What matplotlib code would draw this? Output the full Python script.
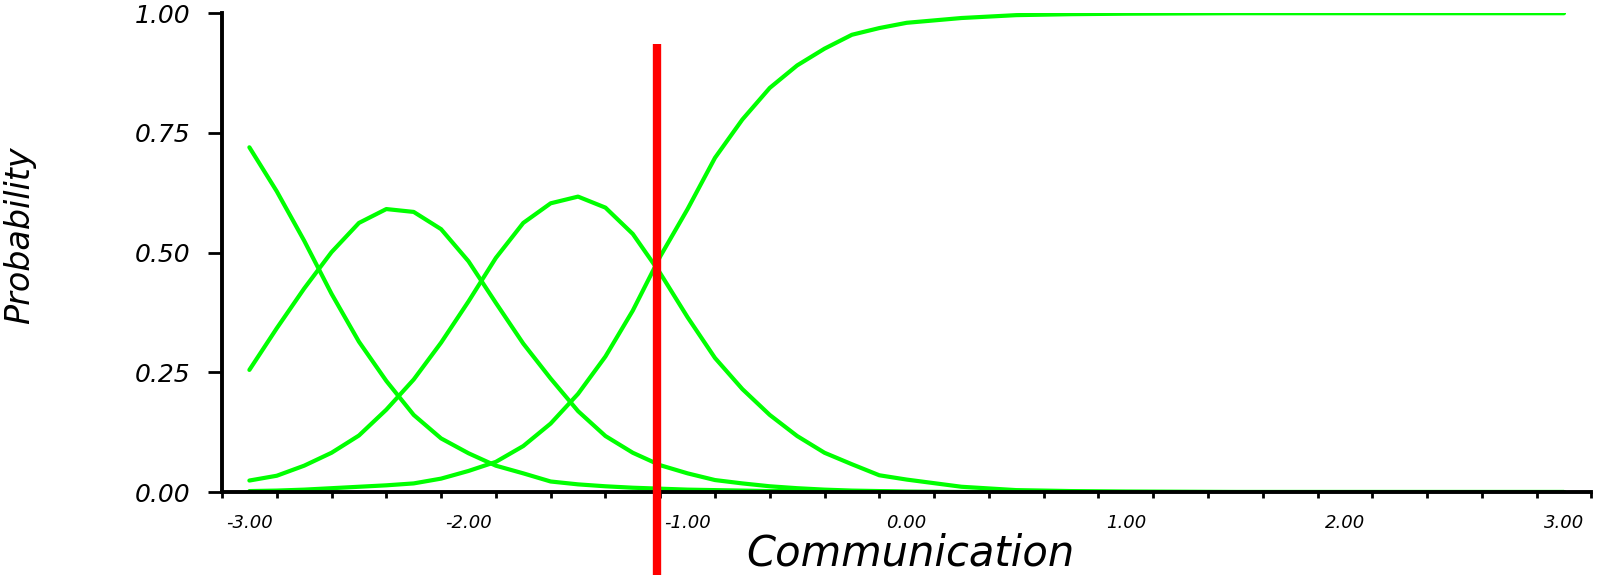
import matplotlib
matplotlib.use("Agg")
import matplotlib.pyplot as plt
import numpy as np

# ability scale (logits) where the curves were read
theta = [-3.0, -2.875, -2.75, -2.625, -2.5, -2.375, -2.25, -2.125, -2.0,
         -1.875, -1.75, -1.625, -1.5, -1.375, -1.25, -1.125, -1.0,
         -0.875, -0.75, -0.625, -0.5, -0.375, -0.25, -0.125, 0.0,
         0.25, 0.5, 0.75, 1.0, 1.5, 2.0, 2.5, 3.0]

# category probability curves
cat0 = [0.720, 0.628, 0.525, 0.414, 0.314, 0.232, 0.161, 0.112, 0.081,
        0.055, 0.039, 0.022, 0.016, 0.012, 0.009, 0.007, 0.005,
        0.004, 0.003, 0.002, 0.002, 0.001, 0.001, 0.001, 0.000,
        0.000, 0.000, 0.000, 0.000, 0.000, 0.000, 0.000, 0.000]
cat1 = [0.255, 0.342, 0.425, 0.501, 0.562, 0.591, 0.585, 0.549, 0.482,
        0.395, 0.310, 0.237, 0.169, 0.117, 0.082, 0.056, 0.039,
        0.025, 0.018, 0.012, 0.008, 0.005, 0.003, 0.002, 0.001,
        0.000, 0.000, 0.000, 0.000, 0.000, 0.000, 0.000, 0.000]
cat2 = [0.024, 0.034, 0.055, 0.082, 0.118, 0.172, 0.235, 0.312, 0.398,
        0.489, 0.562, 0.603, 0.617, 0.594, 0.539, 0.457, 0.365,
        0.280, 0.215, 0.161, 0.117, 0.082, 0.058, 0.035, 0.026,
        0.011, 0.004, 0.002, 0.001, 0.000, 0.000, 0.000, 0.000]
cat3 = [0.002, 0.003, 0.005, 0.008, 0.011, 0.014, 0.018, 0.028, 0.044,
        0.063, 0.096, 0.143, 0.205, 0.283, 0.379, 0.492, 0.591,
        0.698, 0.778, 0.844, 0.891, 0.926, 0.955, 0.969, 0.980,
        0.990, 0.996, 0.998, 0.999, 1.000, 1.000, 1.000, 1.000]

cut_x = -1.14      # red marker position
cut_top = 0.935    # where the red marker stops

x_labels = [-3, -2, -1, 0, 1, 2, 3]
y_ticks = [0.0, 0.25, 0.5, 0.75, 1.0]

fig = plt.figure(figsize=(15.97, 5.75), dpi=100)
ax = fig.add_axes([0.139, 0.1443, 0.8575, 0.8327])

for curve in [cat0, cat1, cat2, cat3]:
    ax.plot(theta, curve, color="#00ff00", lw=3, solid_capstyle="round")

ax.plot([cut_x, cut_x], [-0.2, cut_top], color="#ff0000", lw=6,
        solid_capstyle="butt", clip_on=False, zorder=5)

ax.set_xlim(-3.125, 3.125)
ax.set_ylim(0, 1)

for s in ["top", "right"]:
    ax.spines[s].set_visible(False)
for s in ["left", "bottom"]:
    ax.spines[s].set_linewidth(2.8)

ax.set_yticks(y_ticks)
ax.set_yticklabels(["%.2f" % v for v in y_ticks], fontsize=18, style="italic")
ax.tick_params(axis="y", length=10, width=2, pad=13)

ax.set_xticks(x_labels)
ax.set_xticklabels(["%.2f" % v for v in x_labels], fontsize=13, style="italic")
ax.set_xticks(np.arange(-3.125, 3.13, 0.25), minor=True)
ax.tick_params(axis="x", which="major", length=0, pad=16)
ax.tick_params(axis="x", which="minor", length=4, width=2)

fig.text(0.012, 0.591, "Probability", rotation=90, fontsize=24,
         style="italic", ha="center", va="center")
fig.text(0.570, 0.038, "Communication", fontsize=30, style="italic",
         ha="center", va="center")

fig.savefig("out.png", dpi=100)
